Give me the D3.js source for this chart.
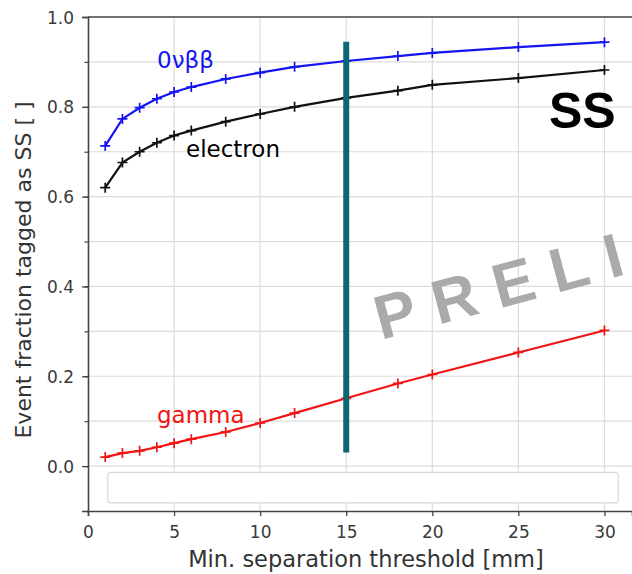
<!DOCTYPE html>
<html><head><meta charset="utf-8">
<script src="https://cdn.jsdelivr.net/npm/d3@7"></script>
<style>body{margin:0;background:#fff}svg{display:block}</style>
</head><body>
<svg id="c" width="632" height="574"></svg>
<script>
const thresholds = [1,2,3,4,5,6,8,10,12,15,18,20,25,30];
const bb0v = [0.713,0.773,0.798,0.818,0.833,0.844,0.862,0.876,0.889,0.902,0.913,0.920,0.933,0.944];
const electron = [0.620,0.676,0.700,0.720,0.736,0.747,0.767,0.784,0.800,0.820,0.836,0.849,0.864,0.882];
const gamma = [0.020,0.029,0.034,0.042,0.051,0.060,0.076,0.096,0.118,0.151,0.184,0.204,0.253,0.302];
const seriesNames = ["0νββ","electron","gamma"];
const seriesColors = ["#1414f0","#111111","#f01414"];
const labelColors = ["#1414f0","#000000","#f01414"];
const xTicks = [0,5,10,15,20,25,30];
const yTicks = [0.0,0.2,0.4,0.6,0.8,1.0];
const cutX = 15, cutRange = [0.03, 0.945];

const svg = d3.select("#c");
const m = {l:88, t:17};
const x = d3.scaleLinear().domain([0, 31.6]).range([m.l, 632]);
const y = d3.scaleLinear().domain([-0.1, 1.0]).range([511, m.t]);
const DJ = "DejaVu Sans, sans-serif";

// grid
svg.append("g").selectAll("line").data(xTicks.slice(1)).join("line")
  .attr("x1",d=>x(d)).attr("x2",d=>x(d)).attr("y1",y(-0.1)).attr("y2",y(1.0))
  .attr("stroke","#dcdcdc").attr("stroke-width",1.2);
svg.append("g").selectAll("line").data(d3.range(0, 10).map(i=>i/10)).join("line")
  .attr("x1",m.l).attr("x2",632).attr("y1",d=>y(d)).attr("y2",d=>y(d))
  .attr("stroke","#dcdcdc").attr("stroke-width",1.2);

// legend box (faint)
svg.append("rect").attr("x",x(1.15)).attr("y",y(-0.014)).attr("width",x(30.8)-x(1.15)).attr("height",y(-0.082)-y(-0.014))
  .attr("rx",3).attr("fill","#fff").attr("stroke","#d8d8d8").attr("stroke-width",1.2);

// watermark
svg.append("text").attr("transform","translate(381,340) rotate(-15)")
  .attr("font-family","Liberation Sans, Arial, sans-serif").attr("font-weight","bold")
  .attr("font-size",62).attr("letter-spacing",18).attr("fill","#aaaaaa").text("PRELIMINARY");

// axes
const xAxis = d3.axisBottom(x).tickValues(xTicks).tickSize(5).tickFormat(d3.format("d"));
const yAxis = d3.axisLeft(y).tickValues(yTicks).tickSize(6).tickFormat(d3.format(".1f"));
const ax = svg.append("g").attr("transform",`translate(0,${y(-0.1)})`).call(xAxis);
const ay = svg.append("g").attr("transform",`translate(${m.l},0)`).call(yAxis);
const yMinorAxis = d3.axisLeft(y).tickValues(d3.range(-1,11).map(i=>i/10)).tickSize(3.5).tickFormat("");
const aym = svg.append("g").attr("transform",`translate(${m.l},0)`).call(yMinorAxis);
aym.select(".domain").remove();
aym.selectAll(".tick line").attr("stroke","#444").attr("stroke-width",1.2);
[ax,ay].forEach(a=>{
  a.select(".domain").attr("stroke","#444").attr("stroke-width",1.6);
  a.selectAll(".tick line").attr("stroke","#444").attr("stroke-width",1.3);
  a.selectAll(".tick text").attr("fill","#3a3a3a").attr("font-family",DJ).attr("font-size",17);
});
ax.selectAll(".tick text").attr("y",27).attr("dy",0);
ay.selectAll(".tick text").attr("x",-14).attr("dy","0.36em");
// top spine
svg.append("line").attr("x1",m.l).attr("x2",632).attr("y1",y(1.0)).attr("y2",y(1.0)).attr("stroke","#444").attr("stroke-width",1.6);

// series
const data = [bb0v, electron, gamma];
const line = d3.line().x((d,i)=>x(thresholds[i])).y(d=>y(d));
data.forEach((vals,k)=>{
  svg.append("path").datum(vals).attr("d",line).attr("fill","none")
    .attr("stroke",seriesColors[k]).attr("stroke-width",2.2);
  const s = 5;
  svg.append("g").selectAll("path").data(vals).join("path")
    .attr("d",(d,i)=>{const px=x(thresholds[i]),py=y(d);return `M${px-s},${py}H${px+s}M${px},${py-s}V${py+s}`;})
    .attr("stroke",seriesColors[k]).attr("stroke-width",1.7);
});

// vertical cut line
svg.append("line").attr("x1",x(cutX)).attr("x2",x(cutX)).attr("y1",y(cutRange[1])).attr("y2",y(cutRange[0]))
  .attr("stroke","#0d6674").attr("stroke-width",6);

// series labels
const lab = [[157,68],[186,157],[157,423]];
seriesNames.forEach((n,k)=>{
  svg.append("text").attr("x",lab[k][0]).attr("y",lab[k][1]).attr("fill",labelColors[k])
    .attr("font-family",DJ).attr("font-size",23).text(n);
});

// SS
svg.append("text").attr("x",549).attr("y",128).attr("font-family","Liberation Sans, Arial, sans-serif")
  .attr("font-weight","bold").attr("font-size",50).attr("fill","#000").text("SS");

// axis labels
svg.append("text").attr("x",366).attr("y",567).attr("text-anchor","middle").attr("fill","#333")
  .attr("font-family",DJ).attr("font-size",22.5).text("Min. separation threshold [mm]");
svg.append("text").attr("transform","translate(31,270) rotate(-90)").attr("text-anchor","middle").attr("fill","#333")
  .attr("font-family",DJ).attr("font-size",22).text("Event fraction tagged as SS [ ]");
</script>
</body></html>
